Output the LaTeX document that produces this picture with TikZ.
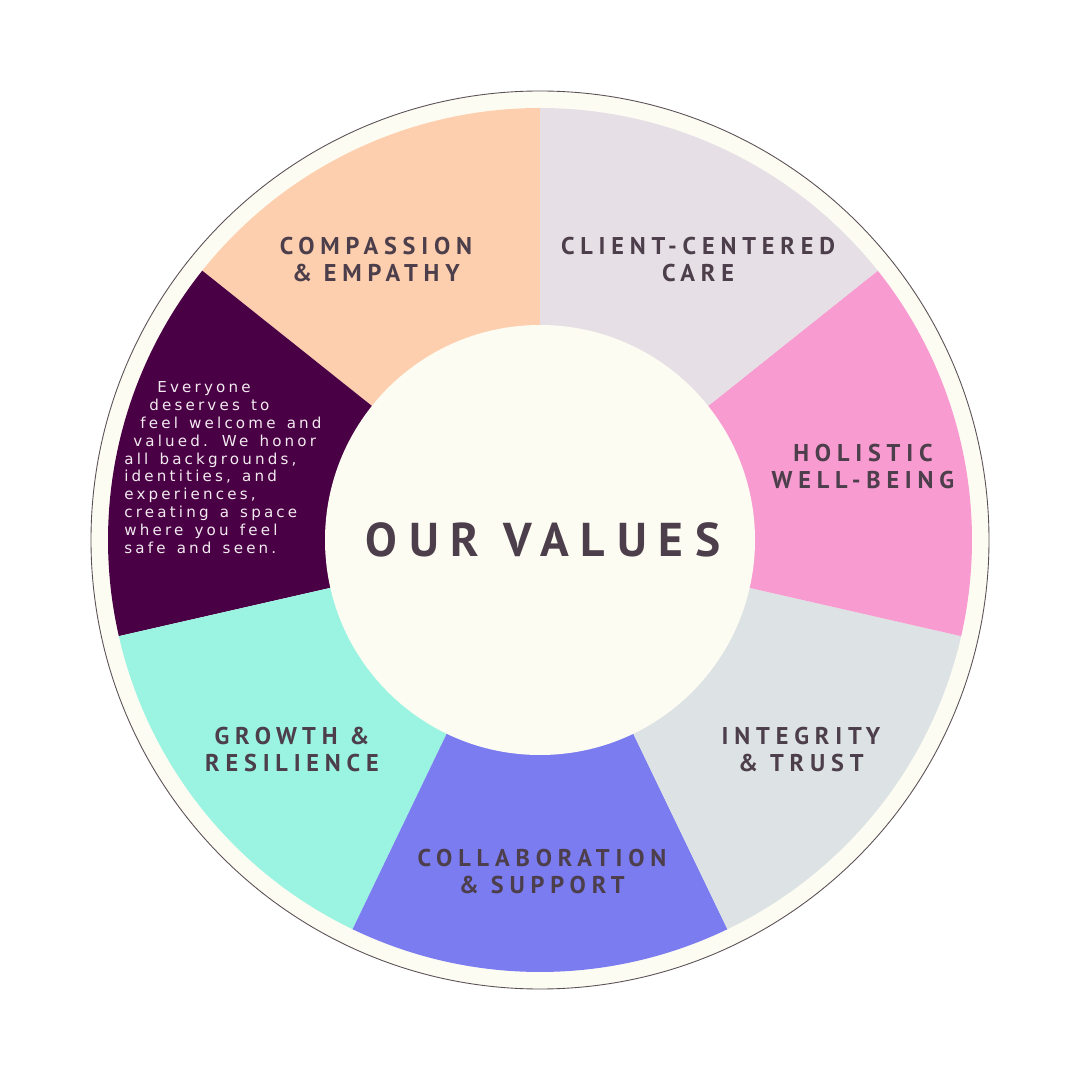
\documentclass[tikz,border=0pt]{standalone}
\usepackage{fontspec}
\usepackage{xcolor}
\usepackage{tikz}
\usetikzlibrary{positioning}
\newfontfamily\lblfont[LetterSpace=24]{PT Sans}
\newfontfamily\ttlfont[LetterSpace=25]{PT Sans}
\newfontfamily\bodyfont[LetterSpace=21,WordSpace=1.4]{DejaVu Sans}
\definecolor{ringCream}{HTML}{FDFCF3}
\definecolor{ringLine}{HTML}{5A5055}
\definecolor{valPeach}{HTML}{FDCFAE}
\definecolor{valLilac}{HTML}{E6DFE6}
\definecolor{valPink}{HTML}{F79BD0}
\definecolor{valGrey}{HTML}{DDE3E5}
\definecolor{valBlue}{HTML}{7A7CF0}
\definecolor{valAqua}{HTML}{9AF4E1}
\definecolor{valPlum}{HTML}{4A0044}
\definecolor{valText}{HTML}{4C3E4A}
\definecolor{bodyText}{HTML}{F2EAF0}

\begin{document}
\begin{tikzpicture}[
  lbl/.style={align=center,text=valText,font=\lblfont\bfseries\fontsize{13.8}{15.4}\selectfont,inner sep=0pt},
  ttl/.style={text=valText,font=\ttlfont\bfseries\fontsize{27}{30}\selectfont,inner sep=0pt}]
\useasboundingbox (-10.8,-10.8) rectangle (10.8,10.8);
% --- outer ring ---
\draw[ringLine,line width=0.5pt,fill=ringCream] (0,0) circle (8.98);
% --- wedges ---
\foreach \a/\c in {90/valPeach,141.43/valPlum,192.86/valAqua,244.29/valBlue,
                   295.71/valGrey,347.14/valPink,398.57/valLilac}
  \fill[\c] (0,0) -- (\a:8.64) arc[start angle=\a,delta angle=51.43,radius=8.64] -- cycle;
% --- centre ---
\fill[ringCream] (0,0) circle (4.3);
\node[ttl] (title) at (0.06,0) {OUR VALUES};
% --- labels ---
\node[lbl] (compassion) at (-3.28,5.61) {COMPASSION\\ \& EMPATHY};
\node[lbl] (client) at (3.16,5.61) {CLIENT-CENTERED\\CARE};
\node[lbl] (holistic) at (6.46,1.47) {HOLISTIC\\WELL-BEING};
\node[lbl] (integrity) at (5.22,-4.19) {INTEGRITY\\ \& TRUST};
\node[lbl] (collab) at (0.04,-6.63) {COLLABORATION\\ \& SUPPORT};
\node[lbl] (growth) at (-4.96,-4.19) {GROWTH \&\\RESILIENCE};
\node[anchor=north west,align=left,inner sep=0pt,text=bodyText,
      font=\bodyfont\fontsize{8.6}{10.2}\selectfont] (promise) at (-8.32,3.18)
  {\hspace*{18.8pt}Everyone\\ \hspace*{14.2pt}deserves to\\ \hspace*{9.1pt}feel welcome and\\
   \hspace*{5.1pt}valued. We honor\\ all backgrounds,\\ identities, and\\ experiences,\\
   creating a space\\ where you feel\\ safe and seen.};
\end{tikzpicture}
\end{document}
